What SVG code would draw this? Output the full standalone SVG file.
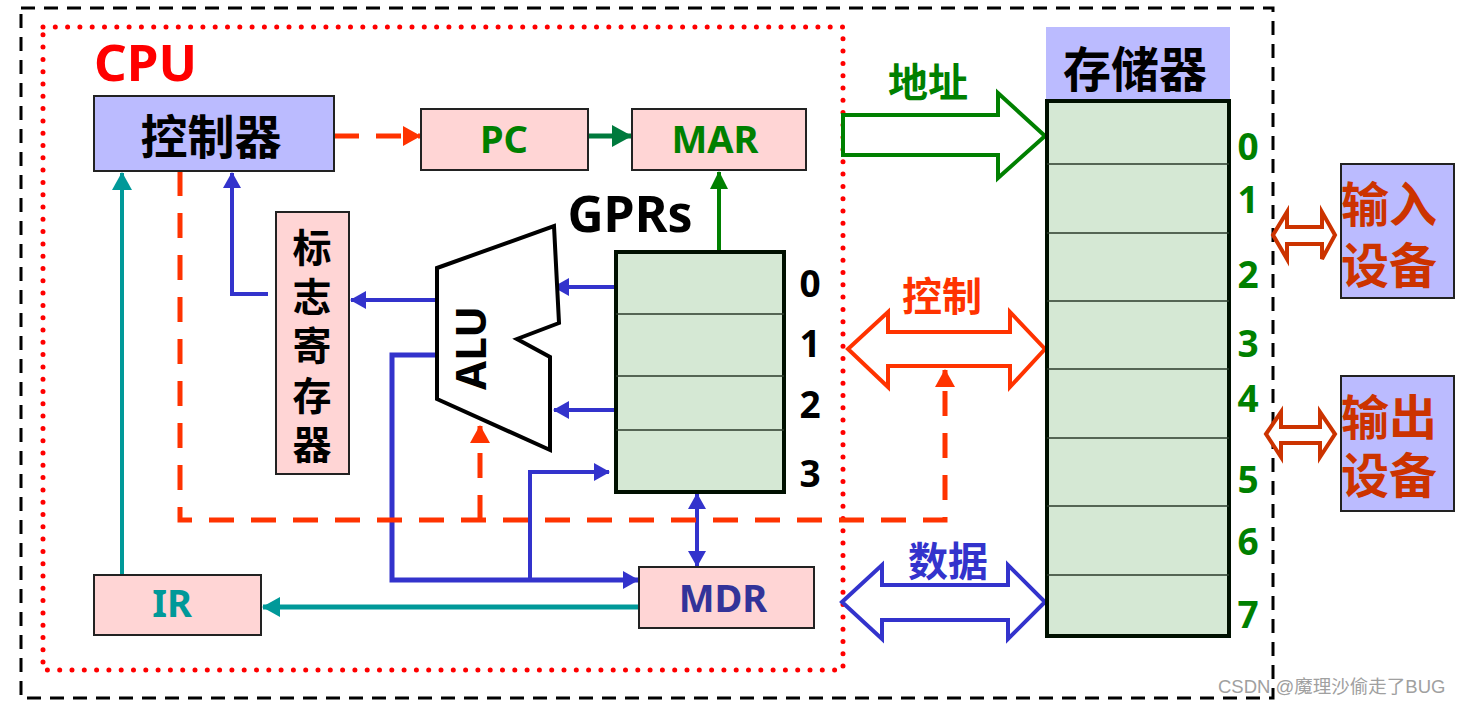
<svg xmlns="http://www.w3.org/2000/svg" width="1462" height="705" viewBox="0 0 1462 705">
<style>
.box{stroke:#222;stroke-width:2}
.pink{fill:#ffd5d5}
.lav{fill:#bbbbff}
.lat{font-family:"Noto Sans","Open Sans","DejaVu Sans",sans-serif;font-weight:700}
.cjk{font-family:"Noto Sans CJK SC","Noto Sans",sans-serif;font-weight:700}
.blue{stroke:#3333cc;fill:none}
.teal{stroke:#009999;fill:none}
.dash{stroke:#ff3300;fill:none;stroke-width:5;stroke-dasharray:25 17}
.row{stroke:#2a3a2a;stroke-width:1.6}
.bus{fill:#fff;stroke-width:4;stroke-linejoin:miter}
</style>
<defs>
<marker id="aB" markerUnits="userSpaceOnUse" markerWidth="16" markerHeight="18" refX="15" refY="9" orient="auto-start-reverse"><path d="M0,0 L16,9 L0,18 z" fill="#3333cc"/></marker>
<marker id="aT" markerUnits="userSpaceOnUse" markerWidth="18" markerHeight="20" refX="17" refY="10" orient="auto"><path d="M0,0 L18,10 L0,20 z" fill="#009999"/></marker>
<marker id="aG" markerUnits="userSpaceOnUse" markerWidth="18" markerHeight="18" refX="17" refY="9" orient="auto"><path d="M0,0 L18,9 L0,18 z" fill="#008000"/></marker>
<marker id="aDG" markerUnits="userSpaceOnUse" markerWidth="20" markerHeight="22" refX="19" refY="11" orient="auto"><path d="M0,0 L20,11 L0,22 z" fill="#007a3d"/></marker>
<marker id="aO" markerUnits="userSpaceOnUse" markerWidth="18" markerHeight="20" refX="17" refY="10" orient="auto"><path d="M0,0 L18,10 L0,20 z" fill="#ff3300"/></marker>
</defs>
<rect width="1462" height="705" fill="#fff"/>

<g id="frames">
<rect x="21" y="8" width="1252" height="690" fill="none" stroke="#000" stroke-width="3" stroke-dasharray="14 9"/>
<rect x="43" y="27" width="800" height="643" fill="none" stroke="#ff0000" stroke-width="5" stroke-dasharray="0 12.3" stroke-linecap="round"/>
<text class="lat" x="94" y="81" font-size="51" fill="#ff0000">CPU</text>
</g>

<g id="connectors">
<path class="teal" d="M122,575 V173" stroke-width="4" marker-end="url(#aT)"/>
<path class="teal" d="M639,607 H263" stroke-width="5" marker-end="url(#aT)"/>
<path class="blue" d="M268,294 H232 V173" stroke-width="4" marker-end="url(#aB)"/>
<path class="blue" d="M437,300 H351" stroke-width="4" marker-end="url(#aB)"/>
<path class="blue" d="M615,287 H554" stroke-width="4" marker-end="url(#aB)"/>
<path class="blue" d="M615,410 H554" stroke-width="4" marker-end="url(#aB)"/>
<path class="blue" d="M437,355 H392 V580 H638" stroke-width="5" marker-end="url(#aB)"/>
<path class="blue" d="M530,580 V472 H609" stroke-width="4" marker-end="url(#aB)"/>
<path class="blue" d="M697,494 V566" stroke-width="4" marker-start="url(#aB)" marker-end="url(#aB)"/>
<path d="M719,252 V172" stroke="#008000" stroke-width="4" fill="none" marker-end="url(#aG)"/>
<path d="M588,136 H631" stroke="#007a3d" stroke-width="5" fill="none" marker-end="url(#aDG)"/>
<path class="dash" d="M334,136 H420" marker-end="url(#aO)"/>
<path class="dash" d="M180,171 V520 H945 V370" marker-end="url(#aO)"/>
<path class="dash" d="M480,520 V426" marker-end="url(#aO)"/>
<polygon class="bus" stroke="#008000" points="843,115 998,115 998,93 1045,136 998,178 998,155 843,155"/>
<polygon class="bus" stroke="#ff3300" points="848,349 888,312 888,332 1010,332 1010,312 1045,349 1010,387 1010,366 888,366 888,387"/>
<polygon class="bus" stroke="#3333cc" points="842,602 882,565 882,585 1008,585 1008,565 1045,602 1008,639 1008,620 882,620 882,639"/>
<polygon class="bus" stroke="#cc3300" stroke-width="3" points="1273,235 1287,212 1287,227 1322,227 1322,212 1335,235 1322,259 1322,244 1287,244 1287,259"/>
<polygon class="bus" stroke="#cc3300" stroke-width="3" points="1266,434 1281,412 1281,427 1320,427 1320,412 1335,434 1320,457 1320,443 1281,443 1281,457"/>
<text class="cjk" x="928" y="80" font-size="40" fill="#008000" text-anchor="middle" dominant-baseline="central">地址</text>
<text class="cjk" x="942" y="294" font-size="40" fill="#ff3300" text-anchor="middle" dominant-baseline="central">控制</text>
<text class="cjk" x="948" y="559" font-size="40" fill="#3333cc" text-anchor="middle" dominant-baseline="central">数据</text>
</g>

<g id="controller">
<rect class="box lav" x="94" y="96" width="240" height="75"/>
<text class="cjk" x="211" y="133" font-size="47" fill="#000" text-anchor="middle" dominant-baseline="central">控制器</text>
</g>

<g id="pc">
<rect class="box pink" x="421" y="109" width="167" height="61"/>
<text class="lat" x="504" y="153" font-size="38" fill="#008000" text-anchor="middle">PC</text>
</g>

<g id="mar">
<rect class="box pink" x="632" y="109" width="174" height="61"/>
<text class="lat" x="715" y="153" font-size="38" fill="#008000" text-anchor="middle">MAR</text>
</g>

<g id="flags">
<rect class="box pink" x="276" y="212" width="73" height="262"/>
<g class="cjk" font-size="39" fill="#000" text-anchor="middle" dominant-baseline="central">
<text x="312" y="245">标</text>
<text x="312" y="294">志</text>
<text x="312" y="343">寄</text>
<text x="312" y="393">存</text>
<text x="312" y="442">器</text>
</g>
</g>

<g id="alu">
<polygon points="437,268 554,226 559,323 517,339 550,357 550,450 437,399" fill="#fff" stroke="#000" stroke-width="4"/>
<text class="lat" transform="translate(486,348) rotate(-90)" x="0" y="0" font-size="42" fill="#000" text-anchor="middle">ALU</text>
</g>

<g id="gprs">
<text class="lat" x="630" y="232" font-size="50" fill="#000" text-anchor="middle">GPRs</text>
<rect x="616" y="252" width="168" height="240" fill="#d5e8d4" stroke="#001000" stroke-width="4"/>
<line class="row" x1="616" y1="314" x2="784" y2="314"/>
<line class="row" x1="616" y1="376" x2="784" y2="376"/>
<line class="row" x1="616" y1="430" x2="784" y2="430"/>
<g class="lat" font-size="37" fill="#000" text-anchor="middle">
<text x="810" y="297">0</text>
<text x="810" y="357">1</text>
<text x="810" y="418">2</text>
<text x="810" y="487">3</text>
</g>
</g>

<g id="ir">
<rect class="box pink" x="94" y="575" width="167" height="60"/>
<text class="lat" x="172" y="617" font-size="38" fill="#009999" text-anchor="middle">IR</text>
</g>

<g id="mdr">
<rect class="box pink" x="639" y="567" width="175" height="61"/>
<text class="lat" x="723" y="612" font-size="38" fill="#333399" text-anchor="middle">MDR</text>
</g>

<g id="memory">
<rect class="lav" x="1046" y="27" width="184" height="74"/>
<text class="cjk" x="1135" y="66" font-size="48" fill="#000" text-anchor="middle" dominant-baseline="central">存储器</text>
<rect x="1047" y="101" width="182" height="535" fill="#d5e8d4" stroke="#001000" stroke-width="4"/>
<line class="row" x1="1047" y1="164" x2="1229" y2="164"/>
<line class="row" x1="1047" y1="233" x2="1229" y2="233"/>
<line class="row" x1="1047" y1="301" x2="1229" y2="301"/>
<line class="row" x1="1047" y1="369" x2="1229" y2="369"/>
<line class="row" x1="1047" y1="438" x2="1229" y2="438"/>
<line class="row" x1="1047" y1="506" x2="1229" y2="506"/>
<line class="row" x1="1047" y1="575" x2="1229" y2="575"/>
<g class="lat" font-size="37" fill="#008000" text-anchor="middle">
<text x="1248" y="160">0</text>
<text x="1248" y="213">1</text>
<text x="1248" y="288">2</text>
<text x="1248" y="357">3</text>
<text x="1248" y="412">4</text>
<text x="1248" y="493">5</text>
<text x="1248" y="555">6</text>
<text x="1248" y="628">7</text>
</g>
</g>

<g id="input-device">
<rect class="box lav" x="1341" y="164" width="113" height="134"/>
<text class="cjk" x="1341" y="201" font-size="48" fill="#cc3300" dominant-baseline="central">输入</text>
<text class="cjk" x="1341" y="262" font-size="48" fill="#cc3300" dominant-baseline="central">设备</text>
</g>

<g id="output-device">
<rect class="box lav" x="1341" y="376" width="113" height="135"/>
<text class="cjk" x="1341" y="414" font-size="48" fill="#cc3300" dominant-baseline="central">输出</text>
<text class="cjk" x="1341" y="472" font-size="48" fill="#cc3300" dominant-baseline="central">设备</text>
</g>

<text x="1218" y="693" font-family="'Liberation Sans','Noto Sans CJK SC',sans-serif" font-size="18.5" fill="#a0a0a0">CSDN @魔理沙偷走了BUG</text>
</svg>
